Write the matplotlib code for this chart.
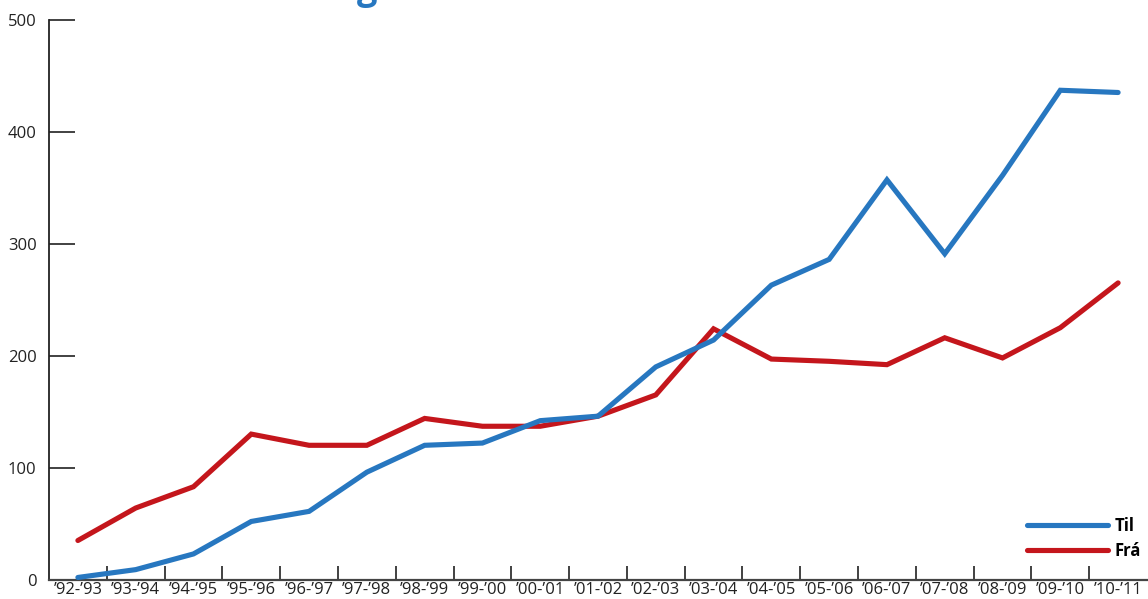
import matplotlib.pyplot as plt
import numpy as np

# seasons on the x axis
seasons = ["’92-’93", "’93-’94", "’94-’95", "’95-’96", "’96-’97", "’97-’98",
           "’98-’99", "’99-’00", "’00-’01", "’01-’02", "’02-’03", "’03-’04",
           "’04-’05", "’05-’06", "’06-’07", "’07-’08", "’08-’09", "’09-’10",
           "’10-’11"]

# values
til = [2, 9, 23, 52, 61, 96, 120, 122, 142, 146, 190, 214, 263, 286, 357,
       291, 361, 437, 435]
fra = [35, 64, 83, 130, 120, 120, 144, 137, 137, 146, 165, 224, 197, 195,
       192, 216, 198, 225, 265]

y_ticks = [0, 100, 200, 300, 400, 500]

BLUE = '#2777c0'
RED = '#c4161c'

plt.rcParams['font.family'] = ['Open Sans', 'DejaVu Sans']

fig = plt.figure(figsize=(11.48, 5.99), dpi=100)
ax = fig.add_axes([49 / 1148, 1 - 579.7 / 599, 1098 / 1148, 560 / 599])

x = np.arange(len(seasons))
ax.plot(x, til, color=BLUE, lw=3.7, solid_capstyle='round',
        solid_joinstyle='miter', clip_on=False, zorder=3)
ax.plot(x, fra, color=RED, lw=3.7, solid_capstyle='round',
        solid_joinstyle='miter', clip_on=False, zorder=2)

ax.set_xlim(-0.5, len(seasons) - 0.5)
ax.set_ylim(0, 500)

# labels centred in each slot, tick marks at the slot boundaries
ax.set_xticks(x)
ax.set_xticklabels(seasons, fontsize=12, color='#222222')
ax.tick_params(axis='x', which='major', length=0, pad=2)
ax.set_xticks(np.arange(0.5, len(seasons) - 1, 1.0), minor=True)
ax.tick_params(axis='x', which='minor', direction='in', length=10,
               width=1.3, color='#333333')

ax.set_yticks(y_ticks)
ax.set_yticklabels([str(v) for v in y_ticks], fontsize=12, color='#222222')
ax.tick_params(axis='y', direction='in', length=19, width=1.3,
               color='#333333', pad=9)

for side in ['top', 'right']:
    ax.spines[side].set_visible(False)
ax.spines['left'].set_linewidth(1.3)
ax.spines['left'].set_color('#222222')
ax.spines['bottom'].set_linewidth(1.6)
ax.spines['bottom'].set_color('#444444')

# legend in the lower right corner
ax.legend(handles=[plt.Line2D([], [], color=BLUE, lw=3.7, solid_capstyle='round'),
                   plt.Line2D([], [], color=RED, lw=3.7, solid_capstyle='round')],
          labels=['Til', 'Frá'], loc='lower right',
          bbox_to_anchor=(1.008, 0.009), frameon=False,
          handlelength=4.86, handletextpad=0.4, labelspacing=0.4,
          prop={'weight': 'bold', 'size': 12})

# cut-off title at the very top of the picture
fig.text(357 / 1148, 1 + 1 / 599, 'g', color=BLUE, fontsize=26,
         fontweight='bold', ha='left', va='baseline')

fig.savefig('out.png', dpi=100)
